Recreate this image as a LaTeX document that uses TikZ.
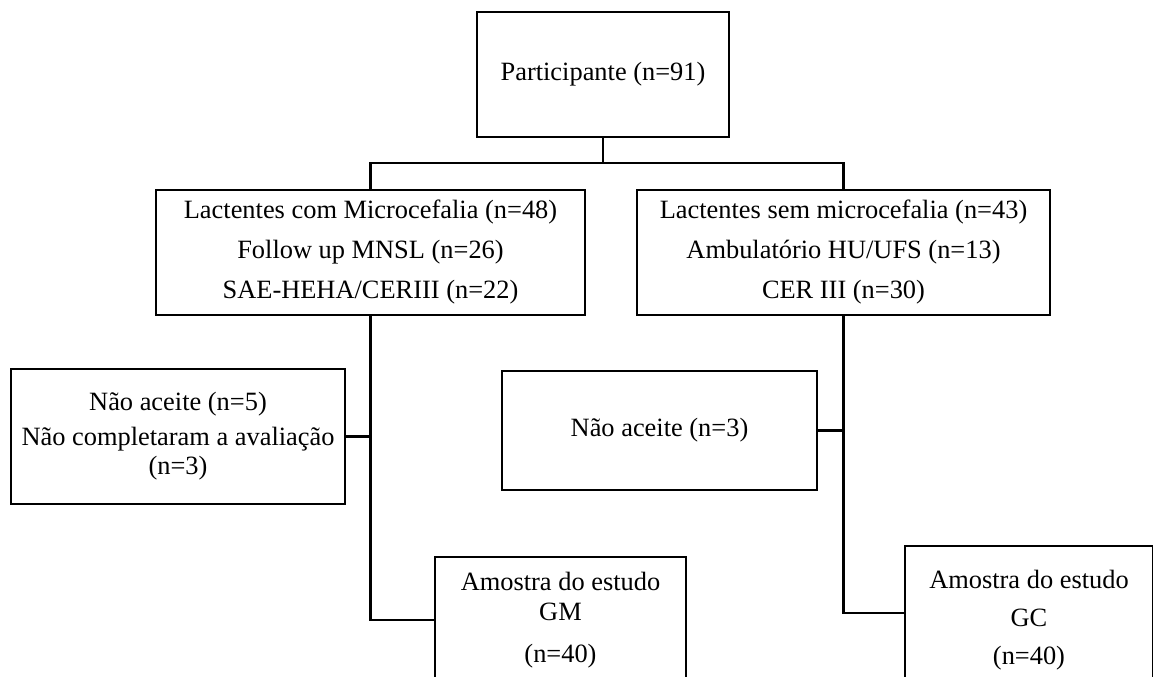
\documentclass[tikz,border=0pt]{standalone}
\usepackage{fontspec}
\setmainfont{Liberation Serif}
\begin{document}
\begin{tikzpicture}[x=0.5pt,y=-0.5pt,
  box/.style={draw, line width=1.3pt, inner sep=0pt, align=center,
    font=\fontsize{13.2}{20}\selectfont},
  tight/.style={font=\fontsize{13.2}{14.5}\selectfont},
  conn/.style={line width=1.3pt}]
\useasboundingbox (0,0) rectangle (1153,676);
\clip (0,0) rectangle (1153,676);

\node[box, minimum width=126pt, minimum height=62.5pt] (top) at (603,74.5) {Participante (n=91)};
\node[box, minimum width=214.5pt, minimum height=62.5pt] (lm) at (370.5,252.5)
  {Lactentes com Microcefalia (n=48)\\Follow up MNSL (n=26)\\SAE-HEHA/CERIII (n=22)};
\node[box, minimum width=206.5pt, minimum height=62.5pt] (ls) at (843.5,252.5)
  {Lactentes sem microcefalia (n=43)\\Ambulatório HU/UFS (n=13)\\CER III (n=30)};
\node[box, tight, minimum width=167pt, minimum height=67.5pt] (rejL) at (178,436.5)
  {Não aceite (n=5)\\[3pt]Não completaram a avaliação\\(n=3)};
\node[box, minimum width=157.5pt, minimum height=59.5pt] (rejR) at (659.5,430.5)
  {Não aceite (n=3)};
\node[box, font=\fontsize{13.2}{15}\selectfont, minimum width=125.5pt, minimum height=63pt] (gm) at (560.5,620)
  {Amostra do estudo\\GM\\[6pt](n=40)};
\node[box, font=\fontsize{13.2}{19}\selectfont, minimum width=124pt, minimum height=67pt] (gc) at (1029,613)
  {\rule{0pt}{16pt}Amostra do estudo\\GC\\(n=40)};

\coordinate (bar) at (603,163);
\draw[conn] (top.south) -- (bar);
\draw[conn] (lm.north) |- (bar) -| (ls.north);
\draw[conn] (lm.south) |- (gm.west);
\draw[conn] (ls.south) |- (gc.west);
\draw[conn] (rejL.east) -- (rejL.east -| lm.south);
\draw[conn] (rejR.east) -- (rejR.east -| ls.south);
\end{tikzpicture}
\end{document}
